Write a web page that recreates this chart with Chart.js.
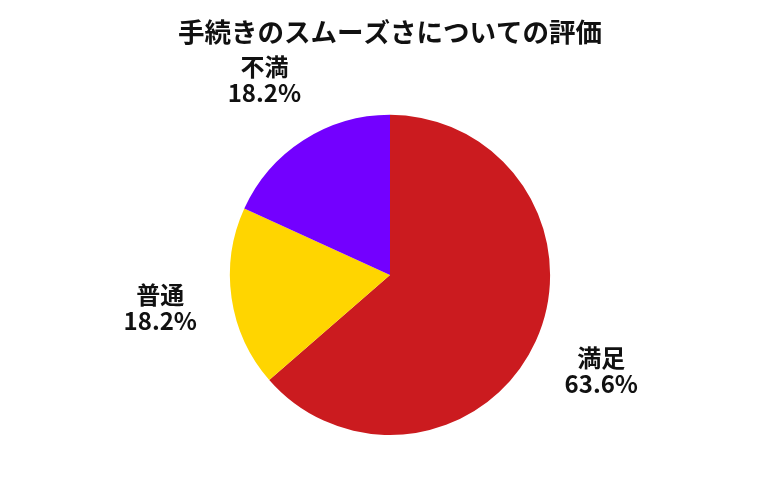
<!DOCTYPE html>
<html>
<head>
<meta charset="utf-8">
<script src="https://cdn.jsdelivr.net/npm/chart.js@4"></script>
<style>
    body { margin: 0; background: #fff; }
    #wrap { width: 780px; height: 500px; }
</style>
</head>
<body>
<div id="wrap"><canvas id="pieChart"></canvas></div>
<script>
// Chart data
const categories = ['満足', '普通', '不満'];
const shares = [63.6, 18.2, 18.2];
const sliceColors = ['#cb1b1f', '#ffd500', '#7300ff'];
const chartTitle = '手続きのスムーズさについての評価';

const fontFamily = '"Noto Sans CJK JP", "Noto Sans", sans-serif';

// Draw labels outside each slice along its mid angle
const outsideLabels = {
    id: 'outsideLabels',
    afterDatasetsDraw(chart) {
        const ctx = chart.ctx;
        const meta = chart.getDatasetMeta(0);
        ctx.save();
        ctx.font = 'bold 24px ' + fontFamily;
        ctx.fillStyle = '#111';
        ctx.textAlign = 'center';
        ctx.textBaseline = 'middle';
        meta.data.forEach(function(arc, i) {
            const mid = (arc.startAngle + arc.endAngle) / 2;
            const dist = arc.outerRadius * 1.45;
            const x = arc.x + Math.cos(mid) * dist;
            const y = arc.y + Math.sin(mid) * dist;
            ctx.fillText(categories[i], x, y - 13);
            ctx.fillText(shares[i].toFixed(1) + '%', x, y + 13);
        });
        ctx.restore();
    }
};

new Chart(document.getElementById('pieChart').getContext('2d'), {
    type: 'pie',
    data: {
        labels: categories,
        datasets: [{
            data: shares,
            backgroundColor: sliceColors,
            borderWidth: 0
        }]
    },
    options: {
        responsive: true,
        maintainAspectRatio: false,
        animation: false,
        layout: {
            padding: { bottom: 65 }
        },
        plugins: {
            legend: { display: false },
            tooltip: { enabled: false },
            title: {
                display: true,
                text: chartTitle,
                color: '#111',
                font: { family: fontFamily, size: 26.5, weight: 'bold' },
                padding: { top: 16, bottom: 67 }
            }
        }
    },
    plugins: [outsideLabels]
});
</script>
</body>
</html>
